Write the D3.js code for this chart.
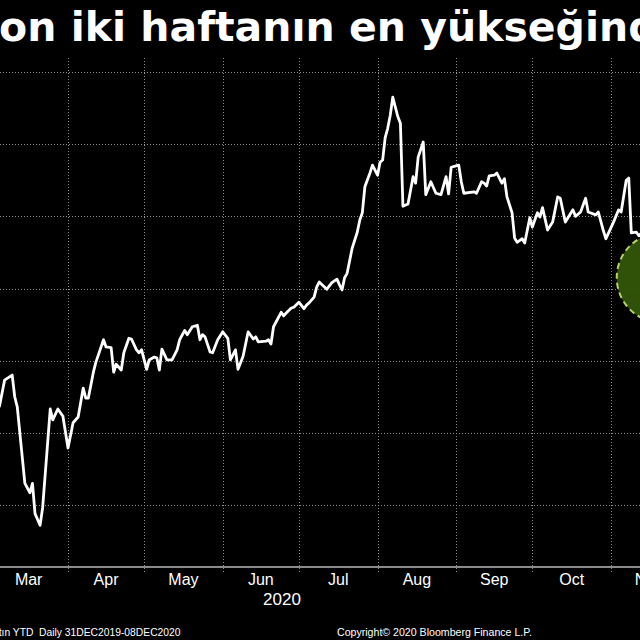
<!DOCTYPE html>
<html><head><meta charset="utf-8">
<script src="https://cdn.jsdelivr.net/npm/d3@7"></script>
<style>html,body{margin:0;padding:0;background:#000;overflow:hidden}</style>
</head><body><svg id="c" width="640" height="640"></svg>
<script>
// ---- data (gold price) ----
const titleText = "on iki haftanın en yükseğinde";
const footerLeft = "Altın YTD  Daily 31DEC2019-08DEC2020";
const footerRight = "Copyright\u00A9 2020 Bloomberg Finance L.P.";
const yearLabel = "2020";
const monthLabels = ["Mar","Apr","May","Jun","Jul","Aug","Sep","Oct","Nov"];
const priceTicks = [1500,1600,1700,1800,1900,2000,2100];
const highlightDate = "2020-11-21";
const highlightPrice = 1815;

const dates = [
"2020-03-02","2020-03-05","2020-03-07","2020-03-10","2020-03-11","2020-03-12","2020-03-15","2020-03-17","2020-03-18","2020-03-19",
"2020-03-21","2020-03-22","2020-03-25","2020-03-26","2020-03-28","2020-03-30","2020-04-01","2020-04-03","2020-04-05","2020-04-07",
"2020-04-08","2020-04-09","2020-04-11","2020-04-12","2020-04-15","2020-04-16","2020-04-18","2020-04-19","2020-04-20","2020-04-22",
"2020-04-23","2020-04-25","2020-04-26","2020-04-28","2020-04-29","2020-04-30","2020-05-02","2020-05-03","2020-05-05","2020-05-06",
"2020-05-07","2020-05-08","2020-05-10","2020-05-12","2020-05-14","2020-05-15","2020-05-17","2020-05-18","2020-05-20","2020-05-22",
"2020-05-23","2020-05-24","2020-05-25","2020-05-27","2020-05-28","2020-05-30","2020-06-01","2020-06-03","2020-06-04","2020-06-06",
"2020-06-07","2020-06-09","2020-06-11","2020-06-13","2020-06-14","2020-06-15","2020-06-18","2020-06-19","2020-06-20","2020-06-21",
"2020-06-24","2020-06-25","2020-06-26","2020-06-28","2020-06-29","2020-07-01","2020-07-03","2020-07-04","2020-07-05","2020-07-07",
"2020-07-08","2020-07-09","2020-07-12","2020-07-14","2020-07-16","2020-07-17","2020-07-18","2020-07-19","2020-07-20","2020-07-22",
"2020-07-24","2020-07-25","2020-07-26","2020-07-27","2020-07-29","2020-07-30","2020-08-01","2020-08-02","2020-08-03","2020-08-04",
"2020-08-05","2020-08-06","2020-08-07","2020-08-09","2020-08-10","2020-08-11","2020-08-13","2020-08-15","2020-08-16","2020-08-17",
"2020-08-19","2020-08-20","2020-08-22","2020-08-24","2020-08-26","2020-08-28","2020-08-29","2020-08-30","2020-09-02","2020-09-03",
"2020-09-04","2020-09-08","2020-09-09","2020-09-11","2020-09-12","2020-09-13","2020-09-14","2020-09-16","2020-09-17","2020-09-19",
"2020-09-20","2020-09-21","2020-09-23","2020-09-24","2020-09-25","2020-09-27","2020-09-28","2020-09-30","2020-10-01","2020-10-03",
"2020-10-04","2020-10-05","2020-10-07","2020-10-09","2020-10-11","2020-10-12","2020-10-14","2020-10-17","2020-10-18","2020-10-20",
"2020-10-22","2020-10-23","2020-10-26","2020-10-27","2020-10-29","2020-10-30","2020-11-02","2020-11-04","2020-11-05","2020-11-07",
"2020-11-08","2020-11-09","2020-11-11","2020-11-12","2020-11-14"
];
const prices = [
1639,1637,1673,1680,1650,1636,1530,1517,1530,1488,
1472,1496,1633,1618,1633,1623,1579,1614,1622,1662,
1648,1648,1684,1698,1729,1719,1718,1684,1695,1687,
1711,1731,1730,1715,1711,1715,1688,1701,1705,1704,
1687,1716,1701,1701,1715,1729,1742,1736,1747,1749,
1729,1736,1733,1712,1711,1729,1740,1731,1701,1715,
1688,1706,1740,1730,1733,1726,1727,1729,1723,1747,
1767,1762,1766,1773,1774,1781,1772,1777,1780,1788,
1802,1809,1799,1808,1813,1805,1798,1815,1821,1856,
1878,1895,1905,1941,1960,1971,1957,1975,1978,2009,
2022,2040,2065,2038,2029,1914,1917,1955,1946,1982,
2003,1930,1948,1932,1930,1955,1931,1968,1971,1948,
1932,1934,1932,1948,1946,1942,1956,1957,1960,1946,
1952,1927,1905,1870,1864,1869,1863,1898,1885,1905,
1899,1912,1881,1892,1927,1925,1892,1909,1900,1906,
1925,1906,1902,1906,1880,1869,1892,1909,1906,1950,
1953,1877,1878,1873,1881
];

// ---- drawing ----
const parse = d3.timeParse("%Y-%m-%d");
const data = dates.map((d, i) => ({date: parse(d), value: prices[i]}));

const svg = d3.select("#c");
svg.append("rect").attr("width", 640).attr("height", 640).attr("fill", "#000");

const x = d3.scaleTime()
  .domain([new Date(2020, 3, 1), new Date(2020, 10, 1)])
  .range([68, 611]);
const y = d3.scaleLinear().domain([1500, 2100]).range([505, 72]);

const axisY = 567;
const gridTop = 58;

// horizontal grid
svg.append("g").selectAll("line").data(priceTicks).join("line")
  .attr("x1", 0).attr("x2", 640)
  .attr("y1", d => Math.round(y(d)) + 0.5).attr("y2", d => Math.round(y(d)) + 0.5)
  .attr("stroke", "#8c8c8c").attr("stroke-width", 1)
  .attr("stroke-dasharray", "1,2");

// vertical grid at month starts
const monthStarts = d3.timeMonth.range(new Date(2020, 2, 1), new Date(2020, 11, 2));
svg.append("g").selectAll("line").data(monthStarts).join("line")
  .attr("x1", d => Math.round(x(d)) + 0.5).attr("x2", d => Math.round(x(d)) + 0.5)
  .attr("y1", gridTop).attr("y2", axisY + 6)
  .attr("stroke", "#8c8c8c").attr("stroke-width", 1)
  .attr("stroke-dasharray", "1,2");

// price line
const line = d3.line().x(d => x(d.date)).y(d => y(d.value)).curve(d3.curveLinear);
svg.append("path").datum(data)
  .attr("d", line)
  .attr("fill", "none").attr("stroke", "#ffffff")
  .attr("stroke-width", 2.8).attr("stroke-linejoin", "round");

// highlight circle
svg.append("circle")
  .attr("cx", x(parse(highlightDate))).attr("cy", y(highlightPrice)).attr("r", 45)
  .attr("fill", "#335709").attr("fill-opacity", 0.94)
  .attr("stroke", "#b4d466").attr("stroke-width", 2)
  .attr("stroke-dasharray", "6,4");

// x axis line
svg.append("line").attr("x1", 0).attr("x2", 640)
  .attr("y1", axisY).attr("y2", axisY)
  .attr("stroke", "#b8b8b8").attr("stroke-width", 1.6);

// month labels centered in each month
const labelFont = "'Liberation Sans', Arial, sans-serif";
svg.append("g").selectAll("text").data(monthLabels).join("text")
  .attr("x", (d, i) => {
    const s = new Date(2020, 2 + i, 1), e = new Date(2020, 3 + i, 1);
    return (x(s) + x(e)) / 2;
  })
  .attr("y", 585)
  .attr("text-anchor", "middle")
  .attr("fill", "#ffffff")
  .attr("font-family", labelFont).attr("font-size", 16)
  .text(d => d);

svg.append("text").attr("x", 282).attr("y", 605)
  .attr("text-anchor", "middle").attr("fill", "#ffffff")
  .attr("font-family", labelFont).attr("font-size", 17)
  .text(yearLabel);

// footer
svg.append("text").attr("x", -10.5).attr("y", 636)
  .attr("fill", "#ffffff").attr("font-family", labelFont).attr("font-size", 10.3)
  .style("white-space", "pre").text(footerLeft);
svg.append("text").attr("x", 337).attr("y", 636)
  .attr("fill", "#ffffff").attr("font-family", labelFont).attr("font-size", 10.6)
  .style("white-space", "pre").text(footerRight);

// title
svg.append("text").attr("x", -1).attr("y", 41)
  .attr("fill", "#ffffff")
  .attr("font-family", "'DejaVu Sans', Verdana, sans-serif")
  .attr("font-weight", "bold").attr("font-size", 41)
  .text(titleText);
</script></body></html>
